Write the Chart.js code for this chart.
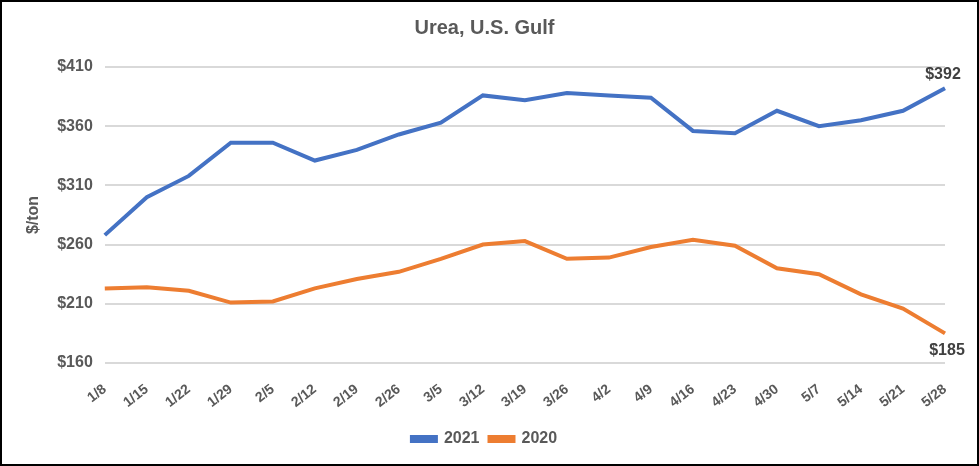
<!DOCTYPE html>
<html>
<head>
<meta charset="utf-8">
<script src="https://cdn.jsdelivr.net/npm/chart.js@4/dist/chart.umd.min.js"></script>
<style>
  html, body { margin: 0; padding: 0; background: #fff; }
  #box { width: 979px; height: 466px; box-sizing: border-box; border: 2px solid #000; }
</style>
</head>
<body>
<div id="box"><canvas id="myChart" width="975" height="462"></canvas></div>
<script>
const weeks = ["1/8", "1/15", "1/22", "1/29", "2/5", "2/12", "2/19", "2/26", "3/5", "3/12", "3/19",
  "3/26", "4/2", "4/9", "4/16", "4/23", "4/30", "5/7", "5/14", "5/21", "5/28"];
const urea2021 = [268, 300, 318, 346, 346, 331, 340, 353, 363, 386, 382, 388, 386, 384, 356, 354, 373, 360, 365, 373, 392];
const urea2020 = [223, 224, 221, 211, 212, 223, 231, 237, 248, 260, 263, 248, 249, 258, 264, 259, 240, 235, 218, 206, 185];

const grey = "#595959";
const font = "'Liberation Sans', Arial, sans-serif";

// last value labels, $392 above the blue line and $185 below the orange one
const endLabels = {
  id: "endLabels",
  afterDatasetsDraw(chart) {
    const { ctx } = chart;
    const x = chart.scales.x;
    const y = chart.scales.y;
    const i = weeks.length - 1;
    ctx.save();
    ctx.font = "bold 16px " + font;
    ctx.fillStyle = "#404040";
    ctx.textAlign = "center";
    ctx.textBaseline = "bottom";
    ctx.fillText("$" + urea2021[i], x.getPixelForValue(i) - 2, y.getPixelForValue(urea2021[i]) - 6);
    ctx.textBaseline = "top";
    ctx.fillText("$" + urea2020[i], x.getPixelForValue(i) + 2, y.getPixelForValue(urea2020[i]) + 9);
    ctx.restore();
  },
};

new Chart(document.querySelector("canvas#myChart"), {
  type: "line",
  data: {
    labels: weeks,
    datasets: [
      { label: "2021", data: urea2021, borderColor: "#4472C4", backgroundColor: "#4472C4", borderWidth: 4, pointRadius: 0, tension: 0 },
      { label: "2020", data: urea2020, borderColor: "#ED7D31", backgroundColor: "#ED7D31", borderWidth: 4, pointRadius: 0, tension: 0 },
    ],
  },
  options: {
    responsive: false,
    animation: false,
    layout: { padding: { left: 22, right: 32, top: 2, bottom: 7 } },
    plugins: {
      title: {
        display: true,
        text: "Urea, U.S. Gulf",
        color: grey,
        font: { family: font, size: 20, weight: "bold" },
        padding: { top: 12, bottom: 27 },
      },
      legend: {
        position: "bottom",
        labels: {
          color: grey,
          font: { family: font, size: 16, weight: "bold" },
          boxWidth: 24,
          boxHeight: 4,
          padding: 10,
        },
      },
      tooltip: { enabled: false },
    },
    scales: {
      x: {
        offset: false,
        grid: { display: false },
        border: { display: false },
        ticks: {
          color: grey,
          font: { family: font, size: 14, weight: "bold" },
          minRotation: 38,
          maxRotation: 38,
          autoSkip: false,
          padding: 10,
        },
      },
      y: {
        min: 160,
        max: 410,
        grid: { color: "#D9D9D9", lineWidth: 2, drawTicks: false },
        border: { display: false },
        ticks: {
          stepSize: 50,
          padding: 12,
          color: grey,
          font: { family: font, size: 16, weight: "bold" },
          callback: (v) => "$" + v,
        },
        title: {
          display: true,
          text: "$/ton",
          color: grey,
          font: { family: font, size: 16, weight: "bold" },
          padding: { top: 0, bottom: 2 },
        },
      },
    },
  },
  plugins: [endLabels],
});
</script>
</body>
</html>
